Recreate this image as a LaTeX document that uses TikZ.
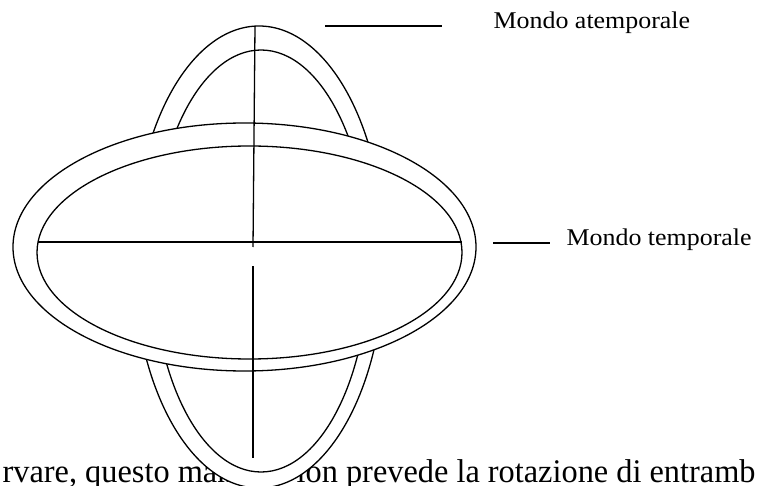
\documentclass[tikz,border=0pt]{standalone}
\usepackage{fontspec}
\setmainfont{Liberation Serif}
\newfontfamily\labfont[FakeStretch=1.08]{Liberation Serif}
\newfontfamily\bodyfont[FakeStretch=0.98]{Liberation Serif}
\begin{document}
\begin{tikzpicture}[x=1pt,y=-1pt,line width=1.3pt,
  ring/.style={draw=black,fill=white,line width=1.3pt},
  ringline/.style={draw=black,line width=1.3pt},
  labeltext/.style={inner sep=0pt,font=\labfont\fontsize{24}{27}\selectfont},
  bodytext/.style={inner sep=0pt,font=\bodyfont\fontsize{33}{36}\selectfont}]
\useasboundingbox (0,0) rectangle (757,486);
\clip (0,0) rectangle (757,486);
% running text under the figure
\node[bodytext,anchor=base west] (txtL) at (2,482) {rvare, questo man};
\node[bodytext,anchor=base west] (txtR) at (296,482) {ion prevede la rotazione di entramb};
% vertical (atemporal) ellipses
\draw[ring] (259,257) ellipse [x radius=125.5pt, y radius=231pt];
\draw[ringline] (261,261) ellipse [x radius=108pt, y radius=211pt];
% horizontal (temporal) ellipses
\draw[ring] (244.5,247) ellipse [x radius=231.5pt, y radius=124pt];
\draw[ringline] (249.5,252.5) ellipse [x radius=212.5pt, y radius=106.5pt];
% axes
\coordinate (vtop) at (255,26);
\coordinate (vmid) at (253,247);
\coordinate (vlow) at (253,266);
\coordinate (vbot) at (253,458);
\coordinate (hl) at (38,242);
\coordinate (hr) at (462,242);
\draw (vtop) -- (vmid);
\draw (vlow) -- (vbot);
\draw (hl) -- (hr);
% labels
\node[labeltext,anchor=base west] (atemp) at (493,29) {Mondo atemporale};
\node[labeltext,anchor=base west] (temp) at (566,246) {Mondo temporale};
\coordinate (la1) at (325,26);
\coordinate (la2) at (442,26);
\coordinate (lt1) at (493,243);
\coordinate (lt2) at (550,243);
\draw (la1) -- (la2);
\draw (lt1) -- (lt2);
\end{tikzpicture}
\end{document}
